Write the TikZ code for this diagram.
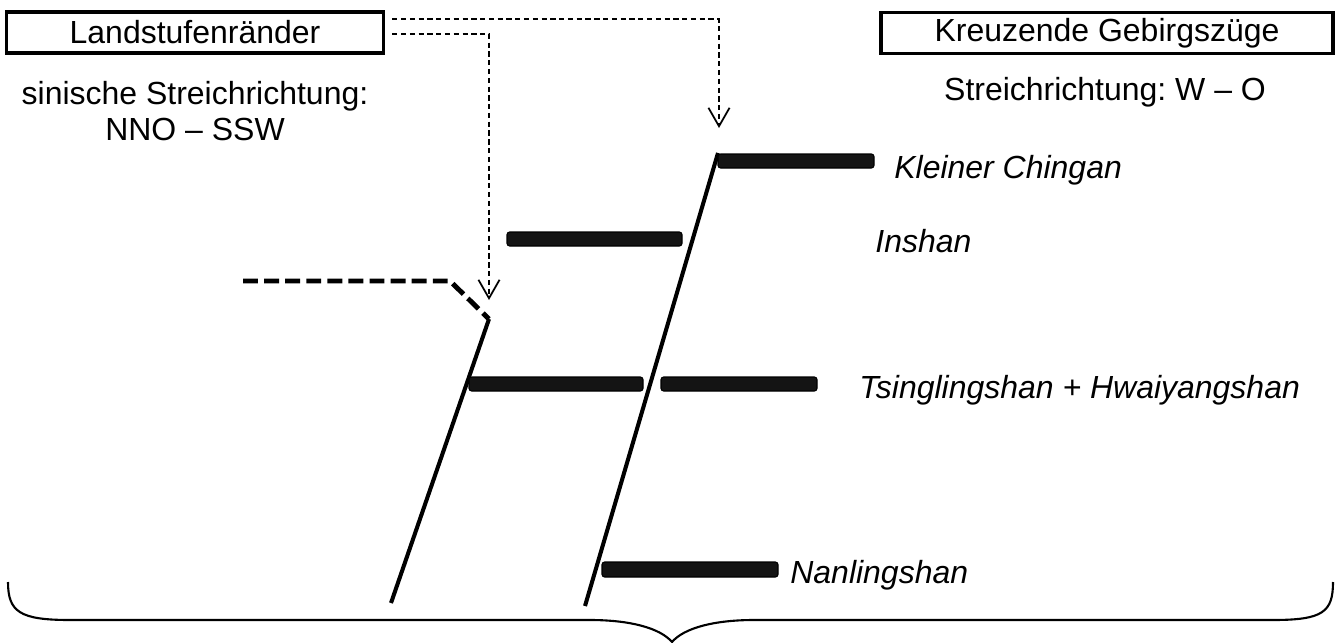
\documentclass[tikz,border=0pt]{standalone}
\usepackage{fontspec}
\setmainfont{Liberation Sans}
\usetikzlibrary{arrows.meta}
\frenchspacing

\begin{document}
\begin{tikzpicture}[x=0.02cm, y=-0.02cm,
    schrift/.style={font={\fontsize{18.2}{22}\selectfont}, inner sep=0pt},
    gebirge/.style={schrift, font={\fontsize{18.2}{22}\selectfont\itshape}, anchor=base west},
    kasten/.style={schrift, draw, line width=2pt, minimum height=0.82cm},
    hinweis/.style={line width=0.85pt, dash pattern=on 3pt off 2pt,
        -{Straight Barb[length=10.5pt, width=12pt, line width=1pt]}},
    balken/.style={fill=black!92, draw=black, line width=0.6pt, rounded corners=1.5pt},
    rand/.style={line width=2.3pt},
    ]
    \useasboundingbox (0,0) rectangle (1341,642);
    % Kaesten oben
    \node[kasten, minimum width=7.54cm] (landstufe) at (195,32.5) {Landstufenränder};
    \node[kasten, minimum width=9.04cm] (gebirgszuege) at (1107,33) {Kreuzende Gebirgszüge};
    \node[schrift, anchor=base] (sinisch) at (195,105) {sinische Streichrichtung:};
    \node[schrift, anchor=base] (nnossw) at (195,140) {NNO -- SSW};
    \node[schrift, anchor=base] (wo) at (1105,100) {Streichrichtung: W -- O};

    % Pfeile von den Landstufenraendern
    \coordinate (ziel1) at (719,128);
    \coordinate (ziel2) at (489,300);
    \draw[hinweis] ([xshift=0.14cm, yshift=0.27cm]landstufe.east) -| (ziel1);
    \draw[hinweis] ([xshift=0.14cm, yshift=-0.03cm]landstufe.east) -| (ziel2);

    % Landstufen
    \draw[rand, dash pattern=on 8.5pt off 3.5pt, line width=2.8pt] (243,281) -- (450,281) -- (489,319);
    \draw[rand] (489,319) -- (391,603);
    \draw[rand] (718,153) -- (585,606);

    % Gebirgszuege
    \draw[balken] (718,154) rectangle (874,168);
    \draw[balken] (507,232) rectangle (682,246);
    \draw[balken] (469,377) rectangle (643,391);
    \draw[balken] (661,377) rectangle (817,391);
    \draw[balken] (602,562) rectangle (778,577);
    \node[gebirge] (kleiner) at (894,178) {Kleiner Chingan};
    \node[gebirge] (inshan) at (875,252) {Inshan};
    \node[gebirge] (tsingling) at (859,398) {Tsinglingshan + Hwaiyangshan};
    \node[gebirge] (nanling) at (790,583) {Nanlingshan};

    % Klammer
    \draw[line width=1.2pt] (8,582) .. controls (8,612) and (20,620) .. (70,620) -- (590,620)
        .. controls (630,620) and (660,628) .. (672,642)
        .. controls (684,628) and (714,620) .. (754,620) -- (1273,620)
        .. controls (1323,620) and (1333,612) .. (1333,582);
\end{tikzpicture}
\end{document}
